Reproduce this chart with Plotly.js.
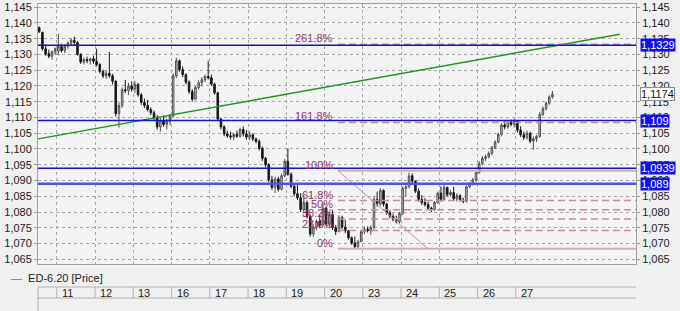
<!DOCTYPE html>
<html>
<head>
<meta charset="utf-8">
<script src="https://cdn.plot.ly/plotly-3.0.1.min.js"></script>
<style>
html,body{margin:0;padding:0;background:#f0f0f0;}
#chart{width:680px;height:311px;}
</style>
</head>
<body>
<div id="chart"></div>
<script>
// ---- data (90-min style bars, 12 per day; first day partial) ----
const dayLabels = ['11','12','13','16','17','18','19','20','23','24','25','26','27'];
const barsPerDay = 12;
const partialBars = 6;

const open = [
1.1385,1.1370,1.1318,1.1302,1.1294,1.1308,
1.1310,1.1325,1.1312,1.1326,1.1336,1.1345,1.1338,1.1300,1.1276,1.1284,1.1280,1.1286,
1.1278,1.1268,1.1246,1.1232,1.1240,1.1232,1.1215,1.1112,1.1138,1.1188,1.1185,1.1200,
1.1190,1.1205,1.1172,1.1148,1.1138,1.1125,1.1115,1.1100,1.1070,1.1090,1.1078,1.1088,
1.1105,1.1232,1.1280,1.1252,1.1236,1.1212,1.1182,1.1158,1.1195,1.1210,1.1220,1.1230,
1.1226,1.1206,1.1178,1.1095,1.1070,1.1048,1.1042,1.1038,1.1046,1.1040,1.1062,1.1048,
1.1038,1.1045,1.1032,1.1024,1.1002,1.0970,1.0950,1.0902,1.0878,1.0905,1.0872,1.0915,
1.0960,1.0920,1.0882,1.0858,1.0845,1.0808,1.0830,1.0786,1.0730,1.0752,1.0770,1.0758,
1.0812,1.0762,1.0792,1.0750,1.0738,1.0782,1.0752,1.0740,1.0718,1.0702,1.0690,1.0706,
1.0738,1.0745,1.0740,1.0750,1.0840,1.0825,1.0868,1.0825,1.0798,1.0786,1.0776,1.0770,
1.0795,1.0875,1.0880,1.0915,1.0898,1.0866,1.0840,1.0830,1.0824,1.0812,1.0808,1.0830,
1.0860,1.0840,1.0878,1.0855,1.0862,1.0842,1.0852,1.0838,1.0834,1.0880,1.0890,1.0902,
1.0925,1.0955,1.0970,1.0975,1.0986,1.1004,1.1022,1.1046,1.1076,1.1070,1.1085,1.1078,
1.1090,1.1060,1.1045,1.1036,1.1050,1.1025,1.1032,1.1040,1.1110,1.1128,1.1145,1.1165
];
const high = [
1.1389,1.1372,1.1331,1.1315,1.1312,1.1322,
1.1366,1.1334,1.1332,1.1341,1.1352,1.1356,1.1342,1.1304,1.1290,1.1293,1.1290,1.1296,
1.1318,1.1272,1.1252,1.1248,1.1308,1.1238,1.1218,1.1148,1.1195,1.1219,1.1210,1.1214,
1.1216,1.1209,1.1177,1.1160,1.1156,1.1132,1.1122,1.1108,1.1098,1.1106,1.1095,1.1112,
1.1240,1.1290,1.1284,1.1262,1.1240,1.1218,1.1190,1.1200,1.1218,1.1228,1.1236,1.1280,
1.1236,1.1210,1.1182,1.1098,1.1075,1.1058,1.1055,1.1052,1.1058,1.1068,1.1072,1.1060,
1.1055,1.1050,1.1036,1.1030,1.1008,1.0975,1.0955,1.0915,1.0912,1.0912,1.0922,1.0968,
1.1002,1.0925,1.0890,1.0888,1.0860,1.0850,1.0836,1.0792,1.0760,1.0776,1.0790,1.0828,
1.0817,1.0800,1.0807,1.0759,1.0790,1.0788,1.0775,1.0743,1.0722,1.0722,1.0712,1.0743,
1.0754,1.0754,1.0758,1.0849,1.0865,1.0875,1.0872,1.0830,1.0806,1.0795,1.0788,1.0800,
1.0881,1.0885,1.0925,1.0922,1.0900,1.0875,1.0854,1.0844,1.0833,1.0817,1.0835,1.0865,
1.0881,1.0886,1.0880,1.0870,1.0880,1.0860,1.0856,1.0845,1.0884,1.0895,1.0908,1.0930,
1.0962,1.0978,1.0982,1.0992,1.1010,1.1028,1.1052,1.1082,1.1092,1.1090,1.1093,1.1096,
1.1092,1.1072,1.1055,1.1058,1.1055,1.1040,1.1045,1.1118,1.1135,1.1150,1.1170,1.1184
];
const low = [
1.1368,1.1312,1.1296,1.1288,1.1283,1.1298,
1.1297,1.1306,1.1304,1.1318,1.1328,1.1330,1.1296,1.1270,1.1268,1.1272,1.1268,1.1270,
1.1262,1.1240,1.1225,1.1222,1.1226,1.1205,1.1103,1.1068,1.1130,1.1177,1.1172,1.1182,
1.1178,1.1166,1.1140,1.1130,1.1119,1.1108,1.1092,1.1062,1.1055,1.1070,1.1062,1.1075,
1.1100,1.1225,1.1245,1.1228,1.1205,1.1175,1.1150,1.1155,1.1188,1.1198,1.1212,1.1220,
1.1200,1.1172,1.1088,1.1062,1.1040,1.1035,1.1030,1.1028,1.1035,1.1036,1.1040,1.1030,
1.1028,1.1025,1.1018,1.0995,1.0962,1.0942,1.0895,1.0870,1.0860,1.0865,1.0868,1.0910,
1.0915,1.0875,1.0850,1.0838,1.0800,1.0795,1.0780,1.0722,1.0722,1.0742,1.0748,1.0754,
1.0754,1.0748,1.0743,1.0727,1.0735,1.0745,1.0733,1.0712,1.0696,1.0683,1.0686,1.0704,
1.0730,1.0735,1.0728,1.0745,1.0817,1.0820,1.0817,1.0791,1.0780,1.0770,1.0764,1.0764,
1.0790,1.0850,1.0875,1.0892,1.0860,1.0833,1.0822,1.0817,1.0807,1.0800,1.0804,1.0826,
1.0833,1.0836,1.0849,1.0849,1.0835,1.0833,1.0833,1.0828,1.0830,1.0876,1.0884,1.0896,
1.0922,1.0948,1.0962,1.0970,1.0980,1.1000,1.1018,1.1040,1.1062,1.1064,1.1072,1.1068,
1.1052,1.1038,1.1029,1.1030,1.1018,1.0997,1.1022,1.1036,1.1105,1.1122,1.1140,1.1160
];
const close = [
1.1372,1.1318,1.1302,1.1294,1.1308,1.1318,
1.1325,1.1312,1.1326,1.1336,1.1345,1.1338,1.1300,1.1276,1.1284,1.1280,1.1286,1.1278,
1.1268,1.1246,1.1232,1.1240,1.1232,1.1215,1.1112,1.1138,1.1188,1.1185,1.1200,1.1190,
1.1205,1.1172,1.1148,1.1138,1.1125,1.1115,1.1100,1.1070,1.1090,1.1078,1.1088,1.1105,
1.1232,1.1280,1.1252,1.1236,1.1212,1.1182,1.1158,1.1195,1.1210,1.1220,1.1230,1.1226,
1.1206,1.1178,1.1095,1.1070,1.1048,1.1042,1.1038,1.1046,1.1040,1.1062,1.1048,1.1038,
1.1045,1.1032,1.1024,1.1002,1.0970,1.0950,1.0902,1.0878,1.0905,1.0872,1.0915,1.0960,
1.0920,1.0882,1.0858,1.0845,1.0808,1.0830,1.0786,1.0730,1.0752,1.0770,1.0758,1.0812,
1.0762,1.0792,1.0750,1.0738,1.0782,1.0752,1.0740,1.0718,1.0702,1.0690,1.0706,1.0738,
1.0745,1.0740,1.0750,1.0840,1.0825,1.0868,1.0825,1.0798,1.0786,1.0776,1.0770,1.0795,
1.0875,1.0880,1.0915,1.0898,1.0866,1.0840,1.0830,1.0824,1.0812,1.0808,1.0830,1.0860,
1.0840,1.0878,1.0855,1.0862,1.0842,1.0852,1.0838,1.0834,1.0880,1.0890,1.0902,1.0925,
1.0955,1.0970,1.0975,1.0986,1.1004,1.1022,1.1046,1.1076,1.1070,1.1085,1.1078,1.1090,
1.1060,1.1045,1.1036,1.1050,1.1025,1.1032,1.1040,1.1110,1.1128,1.1145,1.1165,1.1174
];

// horizontal price levels (blue lines with labels on the right axis)
const levelValues = [1.1329, 1.109, 1.0939, 1.089];
const levelLabels = ['1,1329', '1,109', '1,0939', '1,089'];
const lastPrice = 1.1174;
const lastPriceLabel = '1,1174';

// trend line (time index, price)
const trendX = [-6.3, 176.1];
const trendY = [1.1032, 1.1364];

// Fibonacci
const fibHigh = 1.0931, fibLow = 1.0683;
const fibStartX = 87.7, fibEndX = 116.0;
const fibLevels = [0, 0.236, 0.382, 0.5, 0.618, 1, 1.618, 2.618];
const fibLabels = ['0%', '23.6%', '38.2%', '50%', '61.8%', '100%', '161.8%', '261.8%'];

// ---- chart ----
const xIdx = open.map((_, i) => i - partialBars);
const xMin = -6.39, xMax = 181.2;
const yMin = 1.0635, yMax = 1.1460;
const sepX = dayLabels.map((_, n) => n * barsPerDay - 0.5);

const FONT = 'Liberation Sans, Arial, sans-serif';
const py = p => (264 - p) / 260; // pixel row -> paper y (helper for panel below plot)

const traces = [{
  type: 'candlestick',
  x: xIdx, open: open, high: high, low: low, close: close,
  increasing: {line: {color: '#505050', width: 1}, fillcolor: '#c8c8c8'},
  decreasing: {line: {color: '#1a1a1a', width: 1}, fillcolor: '#1a1a1a'},
  whiskerwidth: 0,
  hoverinfo: 'skip', showlegend: false
}, {
  type: 'scatter', x: [xIdx[0]], y: [close[0]], yaxis: 'y2', mode: 'markers',
  marker: {opacity: 0}, hoverinfo: 'skip', showlegend: false
}];

const shapes = [];
const annotations = [];

// trend line
shapes.push({type: 'line', xref: 'x', yref: 'y', x0: trendX[0], y0: trendY[0], x1: trendX[1], y1: trendY[1],
  line: {color: '#1e961e', width: 1.5}});

// fib lines
fibLevels.forEach((lv, i) => {
  const v = fibLow + lv * (fibHigh - fibLow);
  const solid = (lv === 0 || lv === 1);
  shapes.push({type: 'line', xref: 'x', yref: 'y', x0: fibStartX, x1: xMax, y0: v, y1: v,
    line: {color: solid ? '#d8a8c0' : '#c88aa8', width: solid ? 2 : 1.5, dash: solid ? 'solid' : '7px,4px'}});
  annotations.push({xref: 'x', yref: 'y', x: fibStartX, y: v, text: fibLabels[i], showarrow: false,
    xanchor: 'right', yanchor: 'bottom', xshift: -4, yshift: -1, borderpad: 0,
    font: {family: FONT, size: 11, color: '#993366'}});
});
shapes.push({type: 'line', xref: 'x', yref: 'y', x0: fibStartX, y0: fibHigh, x1: fibEndX, y1: fibLow,
  line: {color: '#d08aa8', width: 1}});

// blue level lines
levelValues.forEach((v, i) => {
  const last = i === levelValues.length - 1;
  shapes.push({type: 'line', xref: 'paper', yref: 'y', x0: 0, x1: 1, y0: v, y1: v,
    line: {color: last ? '#4a55f0' : '#1414c8', width: last ? 2.5 : 1.5}});
  annotations.push({xref: 'paper', yref: 'y', x: 1, y: v, text: levelLabels[i], showarrow: false,
    xanchor: 'left', yanchor: 'middle', xshift: 4, bgcolor: '#1010f0', borderpad: 0,
    font: {family: FONT, size: 11, color: '#ffffff'}});
});
annotations.push({xref: 'paper', yref: 'y', x: 1, y: lastPrice, text: lastPriceLabel, showarrow: false,
  xanchor: 'left', yanchor: 'middle', xshift: 4, bgcolor: '#ffffff', bordercolor: '#8a8a8a', borderwidth: 1, borderpad: 0,
  font: {family: FONT, size: 11, color: '#111'}});

// date panel below
shapes.push({type: 'line', xref: 'paper', yref: 'paper', x0: 0, x1: 1, y0: py(287), y1: py(287), line: {color: '#b0b0b0', width: 1}});
shapes.push({type: 'line', xref: 'paper', yref: 'paper', x0: 0, x1: 1, y0: py(298), y1: py(298), line: {color: '#b0b0b0', width: 1}});
shapes.push({type: 'line', xref: 'paper', yref: 'paper', x0: 0, x1: 0, y0: py(287), y1: py(312), line: {color: '#b0b0b0', width: 1}});
sepX.forEach((sx, n) => {
  shapes.push({type: 'line', xref: 'x', yref: 'paper', x0: sx, x1: sx, y0: py(287), y1: py(298), line: {color: '#b0b0b0', width: 1}});
  annotations.push({xref: 'x', yref: 'paper', x: sx, y: py(292.5), text: dayLabels[n], showarrow: false,
    xanchor: 'left', yanchor: 'middle', xshift: 3, font: {family: FONT, size: 11, color: '#222'}});
});

// legend text
annotations.push({xref: 'paper', yref: 'paper', x: (9 - 38) / 598, y: py(277.5), xanchor: 'left', yanchor: 'middle',
  showarrow: false, text: '<span style="color:#777">—</span>  ED-6.20 [Price]',
  font: {family: FONT, size: 11, color: '#222'}});

const yTicks = [];
for (let t = 1.065; t <= 1.14501; t += 0.005) yTicks.push(+t.toFixed(3));

const yAxisCommon = {
  range: [yMin, yMax], tickvals: yTicks, tickformat: '.3f', ticks: 'outside', ticklen: 3,
  tickcolor: '#999', tickfont: {family: FONT, size: 11, color: '#222'}, zeroline: false, fixedrange: true
};

const layout = {
  width: 680, height: 311,
  margin: {l: 38, r: 44, t: 4, b: 47},
  paper_bgcolor: '#f0f0f0', plot_bgcolor: '#f4f4f4',
  separators: ',.',
  showlegend: false,
  hovermode: false,
  xaxis: {
    range: [xMin, xMax], tickvals: sepX, showticklabels: false, ticks: '',
    showgrid: true, gridcolor: '#a8a8a8', griddash: 'dot', gridwidth: 1,
    showline: true, linecolor: '#a0a0a0', mirror: true, zeroline: false,
    rangeslider: {visible: false}, fixedrange: true
  },
  yaxis: Object.assign({}, yAxisCommon, {
    side: 'left', showgrid: true, gridcolor: '#a8a8a8', griddash: 'dot', gridwidth: 1,
    showline: true, linecolor: '#a0a0a0', mirror: true
  }),
  yaxis2: Object.assign({}, yAxisCommon, {
    side: 'right', overlaying: 'y', showgrid: false, showline: false
  }),
  shapes: shapes,
  annotations: annotations
};

Plotly.newPlot('chart', traces, layout, {staticPlot: true, displayModeBar: false});
</script>
</body>
</html>
